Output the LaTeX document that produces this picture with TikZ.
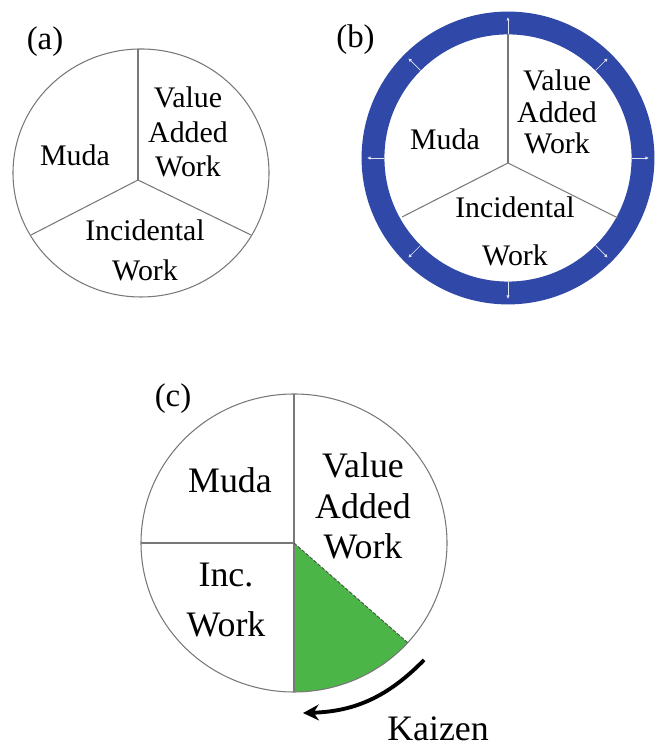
\documentclass[tikz,border=0pt]{standalone}
\usepackage{fontspec}
\setmainfont{Liberation Serif}
\usetikzlibrary{arrows.meta}
\definecolor{ringblue}{RGB}{48,72,168}
\definecolor{kaizengreen}{RGB}{76,181,72}
\definecolor{divgray}{RGB}{120,120,120}
\begin{document}
\begin{tikzpicture}[x=0.02cm,y=0.02cm,
    rim/.style={draw=divgray,line width=0.6pt},
    divider/.style={divgray,line width=0.6pt},
    txt/.style 2 args={align=center,inner sep=0pt,font=\fontsize{#1}{#2}\selectfont},
    tag/.style={anchor=base,inner sep=0pt,font=\fontsize{18.7}{22}\selectfont},
    spoke/.style={white!85!ringblue,line width=0.4pt,-{Latex[length=2pt,width=2pt]}},
    kaizen/.style={black,line width=2.2pt,-{Stealth[length=9pt,width=9pt,inset=3pt]}}]
  \useasboundingbox (0,0) rectangle (656,746);

  % (a) plain split
  \coordinate (ca) at (138,566);
  \coordinate (ta) at (138,697);
  \coordinate (la) at (31,511);
  \coordinate (ra) at (251,511);
  \draw[rim] (141,573) ellipse [x radius=128, y radius=124];
  \draw[divider] (ca) -- (ta);
  \draw[divider] (ca) -- (la);
  \draw[divider] (ca) -- (ra);
  \node[tag] (taga) at (45,696) {(a)};
  \node[txt={17}{19.8}] (mudaa) at (75,591) {Muda};
  \node[txt={17}{19.8}] (vawa) at (188,614) {Value\\Added\\Work};
  \node[txt={17}{22.7}] (inca) at (145,496) {Incidental\\Work};

  % (b) same split, with ring
  \coordinate (cb) at (508,588);
  \coordinate (jb) at (508,583);
  \coordinate (tb) at (508,712);
  \coordinate (lb) at (402,529);
  \coordinate (rb) at (618,528);
  \draw[ringblue,line width=13pt] (cb) circle [radius=135];
  \foreach \a in {0,45,...,315}
    \draw[spoke] ([shift={(\a:124)}]cb) -- ([shift={(\a:141)}]cb);
  \draw[divider] (jb) -- (tb);
  \draw[divider] (jb) -- (lb);
  \draw[divider] (jb) -- (rb);
  \node[tag] (tagb) at (355.5,698) {(b)};
  \node[txt={17}{19.8}] (mudab) at (445,607) {Muda};
  \node[txt={17}{18.1}] (vawb) at (557,634) {Value\\Added\\Work};
  \node[txt={17}{27.2}] (incb) at (515,515) {Incidental\\Work};

  % (c) quarters, green wedge
  \coordinate (cc) at (294,203);
  \coordinate (tc) at (294,352);
  \coordinate (bc) at (294,54);
  \coordinate (lc) at (141,203);
  \coordinate (gc) at (407.7,103.3);
  \fill[kaizengreen] (cc) -- (bc) arc [start angle=-90, end angle=-42, x radius=153, y radius=149] -- cycle;
  \draw[rim] (cc) ellipse [x radius=153, y radius=149];
  \draw[divider] (tc) -- (bc);
  \draw[divider] (lc) -- (cc);
  \draw[black!70,line width=0.5pt,dash pattern=on 2pt off 1pt] (cc) -- (gc);
  \node[tag] (tagc) at (173,339) {(c)};
  \node[txt={20.4}{23}] (mudac) at (230,266) {Muda};
  \node[txt={20.4}{23}] (vawc) at (363,240) {Value\\Added\\Work};
  \node[txt={20.4}{28.4}] (incc) at (226,146) {Inc.\\Work};

  \coordinate (kz1) at (424,86);
  \coordinate (kz2) at (303,33);
  \draw[kaizen] (kz1) to[bend left=22] (kz2);
  \node[txt={20.4}{23},anchor=base] (kz) at (438,6) {Kaizen};
\end{tikzpicture}
\end{document}
